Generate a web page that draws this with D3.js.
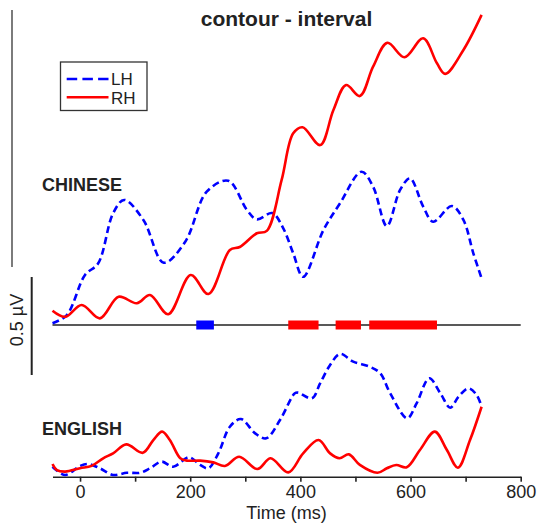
<!DOCTYPE html>
<html>
<head>
<meta charset="utf-8">
<script src="https://cdn.jsdelivr.net/npm/d3@7"></script>
<style>
  html, body { margin: 0; padding: 0; background: #fff; }
  svg { display: block; font-family: "Liberation Sans", Arial, sans-serif; }
</style>
</head>
<body>
<svg id="chart" width="542" height="525"></svg>
<script>
// ---- data (time in ms, amplitude in µV relative to each panel baseline) ----
const chineseLHt = [-50,-24,9,33,60,80,115,152,191,230,269,303,321,349,369,387,405,442,472,511,532,557,581,599,623,641,675,696,714,729];
const chineseLHv = [0.009,0.051,0.255,0.315,0.570,0.638,0.536,0.318,0.425,0.680,0.736,0.587,0.539,0.571,0.493,0.366,0.246,0.485,0.621,0.782,0.706,0.505,0.689,0.748,0.604,0.527,0.607,0.536,0.366,0.238];

const chineseRHt = [-50,-27,3,36,70,103,127,160,201,233,272,290,321,339,366,387,404,436,460,483,508,532,558,589,623,648,663,696,729];
const chineseRHv = [0.073,0.042,0.102,0.034,0.144,0.111,0.153,0.055,0.255,0.158,0.383,0.398,0.468,0.480,0.740,0.978,1.009,0.918,1.097,1.224,1.168,1.318,1.440,1.366,1.463,1.335,1.281,1.403,1.582];

const englishLHt = [-50,-27,0,15,36,60,85,109,127,148,169,198,218,233,251,272,292,318,338,363,390,396,421,436,454,472,496,526,545,563,594,611,634,654,672,687,705,720,729];
const englishLHv = [0.051,0.009,0.055,0.065,0.043,0.009,0.020,0.020,0.043,0.077,0.051,0.099,0.060,0.043,0.119,0.255,0.294,0.221,0.196,0.289,0.426,0.429,0.400,0.477,0.570,0.626,0.587,0.561,0.528,0.426,0.298,0.374,0.502,0.426,0.352,0.408,0.451,0.417,0.357];

const englishRHt = [-50,-42,-27,0,21,42,60,84,114,133,149,163,182,194,218,242,263,289,322,346,378,405,433,454,471,488,508,540,557,574,593,617,644,666,686,708,729];
const englishRHv = [0.065,0.034,0.026,0.043,0.055,0.094,0.119,0.165,0.122,0.187,0.230,0.187,0.094,0.082,0.082,0.073,0.055,0.102,0.039,0.094,0.022,0.119,0.187,0.119,0.094,0.114,0.060,0.020,0.043,0.060,0.048,0.136,0.230,0.136,0.046,0.187,0.357];

// significance intervals (ms) on the Chinese baseline
const sigLHStart = [211];
const sigLHEnd   = [243];
const sigRHStart = [378, 464, 525];
const sigRHEnd   = [433, 510, 648];

const xTicks = [0,100,200,300,400,500,600,700,800];
const xTickLabels = ["0","","200","","400","","600","","800"];
const seriesNames = ["LH", "RH"];
const panelNames = ["CHINESE", "ENGLISH"];
const titleText = "contour - interval";
const xLabel = "Time (ms)";
const scaleLabel = "0.5 µV";

// ---- drawing ----
const svg = d3.select("#chart");
const blue = "#0000ff", red = "#ff0000", ink = "#222";

const x = d3.scaleLinear().domain([-50, 800]).range([52.5, 520.7]);
const yC = d3.scaleLinear().domain([0, 0.5]).range([325, 227]);
const yE = d3.scaleLinear().domain([0, 0.5]).range([476.7, 378.7]);

const zip = (t, v) => t.map((d, i) => [d, v[i]]);

function drawLine(data, yScale, color, dashed) {
  const line = d3.line().x(d => x(d[0])).y(d => yScale(d[1])).curve(d3.curveCatmullRom.alpha(0.5));
  svg.append("path")
    .attr("d", line(data))
    .attr("fill", "none")
    .attr("stroke", color)
    .attr("stroke-width", 2.6)
    .attr("stroke-linecap", "butt")
    .attr("stroke-linejoin", "round")
    .attr("stroke-dasharray", dashed ? "7,4" : null);
}

// title
svg.append("text").attr("x", 286.5).attr("y", 26).attr("text-anchor", "middle")
  .attr("font-size", 21).attr("font-weight", "bold").attr("fill", ink).text(titleText);

// left vertical reference line
svg.append("line").attr("x1", 12).attr("x2", 12).attr("y1", 10).attr("y2", 267)
  .attr("stroke", "#444").attr("stroke-width", 1.4);

// scale bar (0.5 µV)
svg.append("line").attr("x1", 31.7).attr("x2", 31.7)
  .attr("y1", 277).attr("y2", 277 + (yC(0) - yC(0.5)))
  .attr("stroke", ink).attr("stroke-width", 2);
svg.append("text").attr("transform", "translate(23,320) rotate(-90)")
  .attr("text-anchor", "middle").attr("font-size", 18).attr("fill", ink).text(scaleLabel);

// legend
const lg = svg.append("g");
lg.append("rect").attr("x", 60.5).attr("y", 62).attr("width", 86.5).attr("height", 48.5)
  .attr("fill", "#fff").attr("stroke", "#333").attr("stroke-width", 1.3);
lg.append("line").attr("x1", 66.7).attr("x2", 108.5).attr("y1", 79).attr("y2", 79)
  .attr("stroke", blue).attr("stroke-width", 2.6).attr("stroke-dasharray", "10.5,5.2");
lg.append("line").attr("x1", 66.7).attr("x2", 108.5).attr("y1", 97.3).attr("y2", 97.3)
  .attr("stroke", red).attr("stroke-width", 2.6);
lg.append("text").attr("x", 111).attr("y", 85).attr("font-size", 17).attr("fill", ink).text(seriesNames[0]);
lg.append("text").attr("x", 111).attr("y", 103.5).attr("font-size", 17).attr("fill", ink).text(seriesNames[1]);

// panel labels
svg.append("text").attr("x", 42).attr("y", 191).attr("font-size", 18).attr("font-weight", "bold")
  .attr("fill", ink).text(panelNames[0]);
svg.append("text").attr("x", 42).attr("y", 435).attr("font-size", 18).attr("font-weight", "bold")
  .attr("fill", ink).text(panelNames[1]);

// Chinese baseline
svg.append("line").attr("x1", x(-50)).attr("x2", x(800)).attr("y1", yC(0)).attr("y2", yC(0))
  .attr("stroke", ink).attr("stroke-width", 1.6);

// significance bars
sigLHStart.forEach((s, i) => {
  svg.append("rect").attr("x", x(s)).attr("width", x(sigLHEnd[i]) - x(s))
    .attr("y", yC(0) - 4.5).attr("height", 9).attr("fill", blue);
});
sigRHStart.forEach((s, i) => {
  svg.append("rect").attr("x", x(s)).attr("width", x(sigRHEnd[i]) - x(s))
    .attr("y", yC(0) - 4.5).attr("height", 9).attr("fill", red);
});

// English x axis
const axis = d3.axisBottom(x).tickValues(xTicks)
  .tickFormat((d, i) => xTickLabels[i]).tickSize(5).tickSizeOuter(0).tickPadding(4);
const ax = svg.append("g").attr("transform", `translate(0,${yE(0)})`).call(axis);
ax.select(".domain").attr("stroke", ink).attr("stroke-width", 1.6);
ax.selectAll(".tick line").attr("stroke", ink).attr("stroke-width", 1.6);
ax.selectAll(".tick text").attr("font-size", 18).attr("fill", ink)
  .attr("font-family", "'Liberation Sans', Arial, sans-serif");

svg.append("text").attr("x", 286.5).attr("y", 519).attr("text-anchor", "middle")
  .attr("font-size", 18).attr("fill", ink).text(xLabel);

// curves
drawLine(zip(chineseLHt, chineseLHv), yC, blue, true);
drawLine(zip(chineseRHt, chineseRHv), yC, red, false);
drawLine(zip(englishLHt, englishLHv), yE, blue, true);
drawLine(zip(englishRHt, englishRHv), yE, red, false);
</script>
</body>
</html>
